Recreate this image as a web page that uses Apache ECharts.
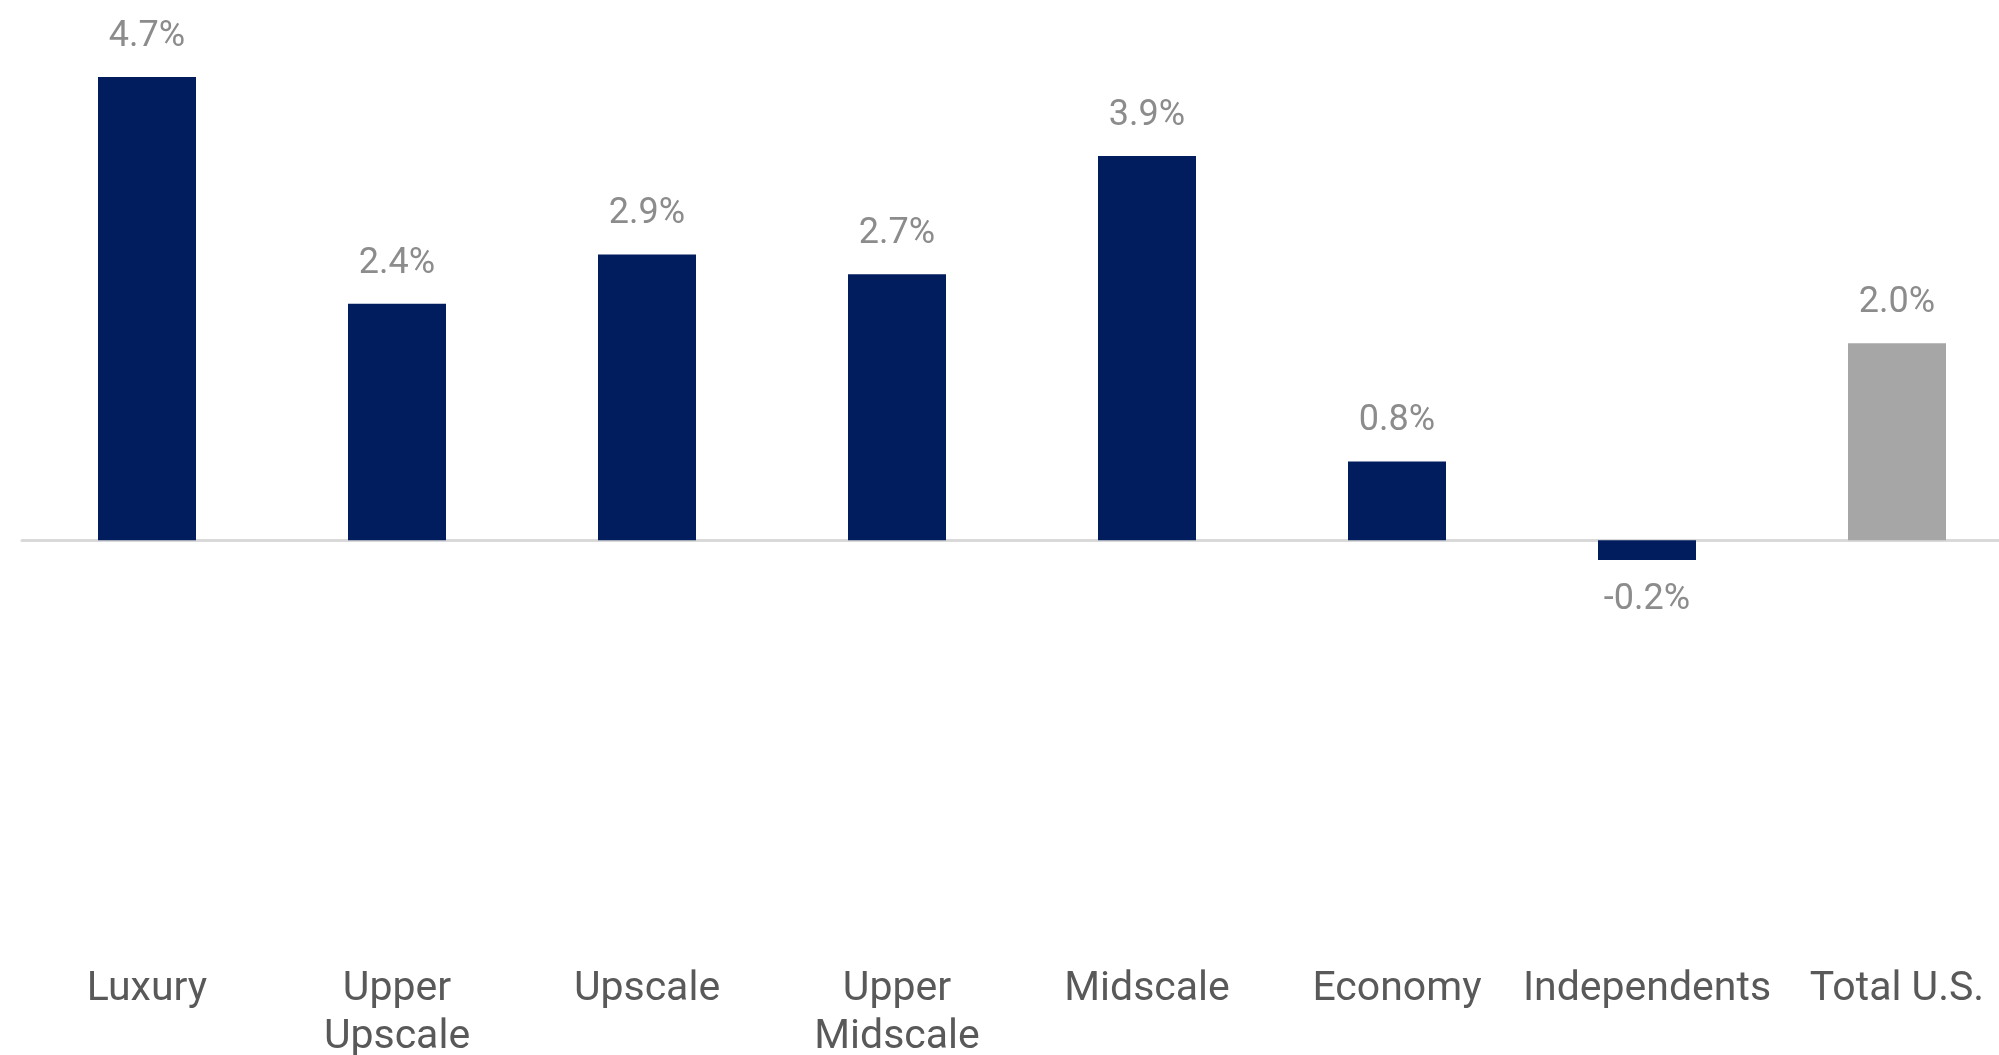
<!DOCTYPE html>
<html>
<head>
<meta charset="utf-8">
<script src="https://cdn.jsdelivr.net/npm/echarts@6/dist/echarts.min.js"></script>
<style>
html,body{margin:0;padding:0;background:#fff;}
#chart{width:1999px;height:1055px;}
</style>
</head>
<body>
<div id="chart"></div>
<script>
const categories = ['Luxury', 'Upper\nUpscale', 'Upscale', 'Upper\nMidscale', 'Midscale', 'Economy', 'Independents', 'Total U.S.'];
const values = [4.7, 2.4, 2.9, 2.7, 3.9, 0.8, -0.2, 2.0];
const totalCategory = 'Total U.S.';

const NAVY = '#021d5e';
const GRAY = '#a6a6a6';
const Y_MIN = -4, Y_MAX = 5;

const chart = echarts.init(document.getElementById('chart'), null, {renderer: 'canvas'});

const seriesData = values.map((v, i) => ({
  value: v,
  itemStyle: { color: categories[i] === totalCategory ? GRAY : NAVY },
  label: { position: v < 0 ? 'bottom' : 'top' }
}));

chart.setOption({
  animation: false,
  backgroundColor: '#ffffff',
  grid: [
    { left: 147, right: 102, top: 47.5, height: 887, containLabel: false, outerBoundsMode: 'none' },
    { left: 22, right: 0, top: 47.5, height: 887, containLabel: false, outerBoundsMode: 'none' }
  ],
  xAxis: [{
    type: 'category',
    gridIndex: 0,
    data: categories,
    boundaryGap: false,
    axisLine: { show: false, onZero: false },
    axisTick: { show: false },
    splitLine: { show: false },
    axisLabel: {
      interval: 0,
      margin: 31,
      fontFamily: 'Roboto',
      fontSize: 41,
      lineHeight: 48,
      color: '#595959'
    }
  }, {
    type: 'value',
    gridIndex: 1,
    min: 0,
    max: 1,
    axisLine: { show: true, onZero: true, lineStyle: { color: '#d9d9d9', width: 3 } },
    axisTick: { show: false },
    axisLabel: { show: false },
    splitLine: { show: false }
  }],
  yAxis: [{
    type: 'value',
    gridIndex: 0,
    min: Y_MIN,
    max: Y_MAX,
    show: false,
    splitLine: { show: false }
  }, {
    type: 'value',
    gridIndex: 1,
    min: Y_MIN,
    max: Y_MAX,
    axisLine: { show: false },
    axisTick: { show: false },
    axisLabel: { show: false },
    splitLine: { show: false }
  }],
  series: [{
    type: 'bar',
    xAxisIndex: 0,
    yAxisIndex: 0,
    data: seriesData,
    barWidth: 98,
    z: 3,
    label: {
      show: true,
      distance: 22,
      fontFamily: 'Roboto',
      fontSize: 36,
      color: '#8c8c8c',
      formatter: p => p.value.toFixed(1) + '%'
    }
  }]
});
</script>
</body>
</html>
